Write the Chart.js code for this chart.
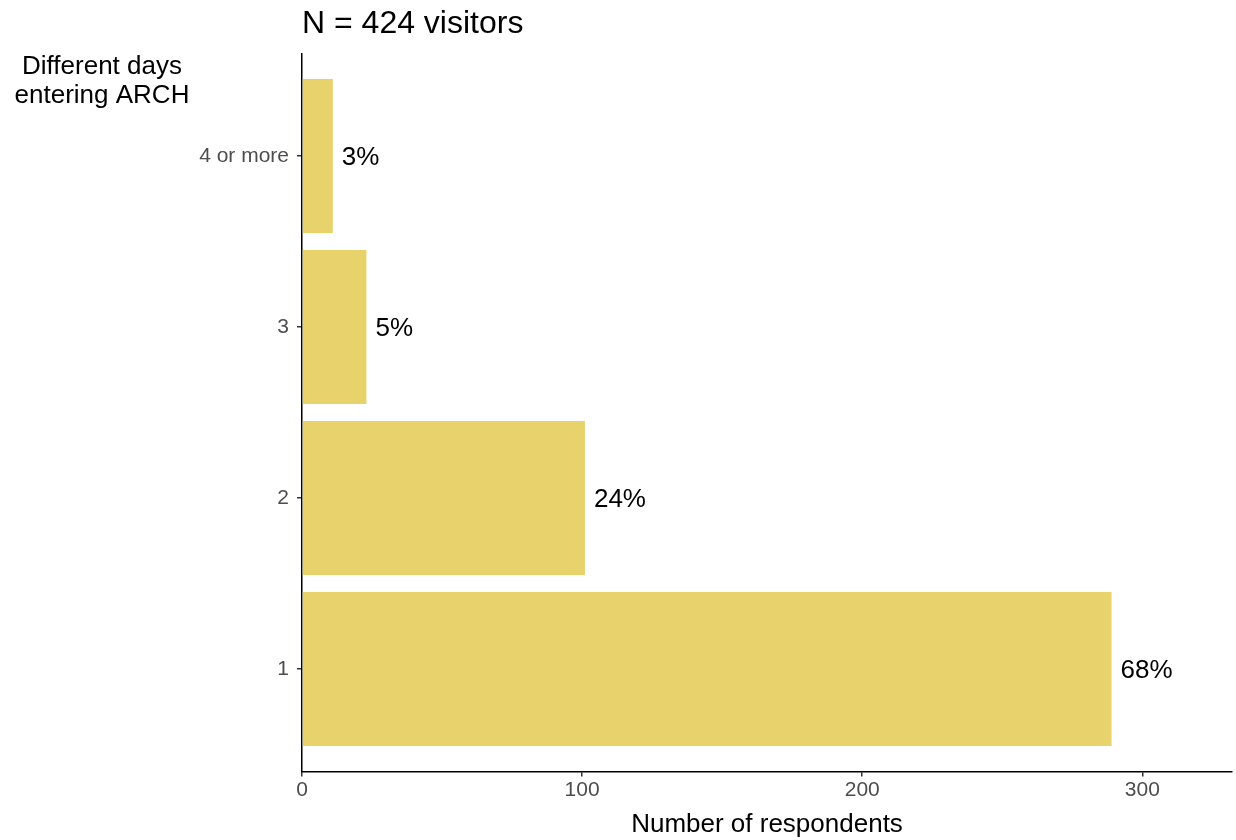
<!DOCTYPE html>
<html>
<head>
<meta charset="utf-8">
<script src="https://cdn.jsdelivr.net/npm/chart.js@4.4.1/dist/chart.umd.min.js"></script>
<style>
  html, body { margin: 0; padding: 0; background: #fff; }
</style>
</head>
<body>
<canvas id="myChart" width="1236" height="840"></canvas>
<script>
// data
var categories = ['1', '2', '3', '4 or more'];
var respondents = [289, 101, 23, 11];
var pctLabels = ['68%', '24%', '5%', '3%'];
var xTicks = [0, 100, 200, 300];
var xMax = 332;

var fontFamily = '"Liberation Sans", Arial, sans-serif';
var barColor = '#E8D26B';

// bars sit on a linear axis at 1..n so the discrete padding can match (0.6 of a step)
var points = respondents.map(function(v, i){ return { x: v, y: i + 1 }; });

// percent labels next to bars + the horizontal y axis title at top left
var extraText = {
  id: 'extraText',
  afterDatasetsDraw: function(chart) {
    var ctx = chart.ctx;
    var meta = chart.getDatasetMeta(0);
    ctx.save();
    ctx.font = '26px ' + fontFamily;
    ctx.fillStyle = '#000';
    ctx.textAlign = 'left';
    ctx.textBaseline = 'middle';
    meta.data.forEach(function(bar, i){
      ctx.fillText(pctLabels[i], bar.x + 9, bar.y + 2);
    });
    ctx.textAlign = 'center';
    ctx.textBaseline = 'alphabetic';
    ctx.fillText('Different days', 102, 74);
    ctx.fillText('entering ARCH', 102, 103);
    ctx.restore();
  }
};

var ctx = document.getElementById('myChart').getContext('2d');
var myChart = new Chart(ctx, {
  type: 'bar',
  data: {
    datasets: [{
      data: points,
      backgroundColor: barColor,
      borderWidth: 0,
      barPercentage: 0.9,
      categoryPercentage: 1
    }]
  },
  plugins: [extraText],
  options: {
    responsive: false,
    devicePixelRatio: 1,
    animation: false,
    indexAxis: 'y',
    layout: {
      padding: { left: 0, right: 4, top: 0, bottom: 0 }
    },
    plugins: {
      legend: { display: false },
      tooltip: { enabled: false },
      title: {
        display: true,
        text: 'N = 424 visitors',
        align: 'start',
        fullSize: false,
        color: '#000',
        font: { family: fontFamily, size: 32, weight: 'normal' },
        padding: { top: 5, bottom: 10 }
      }
    },
    scales: {
      x: {
        type: 'linear',
        min: 0,
        max: xMax,
        border: { display: true, color: '#000', width: 1.5 },
        grid: { display: true, drawOnChartArea: false, drawTicks: true, tickLength: 5, color: '#333', lineWidth: 1.5 },
        afterBuildTicks: function(scale) {
          scale.ticks = xTicks.map(function(v){ return { value: v }; });
        },
        ticks: {
          color: '#4D4D4D',
          padding: 1,
          font: { family: fontFamily, size: 21 }
        },
        title: {
          display: true,
          text: 'Number of respondents',
          color: '#000',
          font: { family: fontFamily, size: 26 },
          padding: { top: 5, bottom: 0 }
        }
      },
      y: {
        type: 'linear',
        min: 0.4,
        max: categories.length + 0.6,
        offset: false,
        border: { display: true, color: '#000', width: 1.5 },
        grid: { display: true, offset: false, drawOnChartArea: false, drawTicks: true, tickLength: 5, color: '#333', lineWidth: 1.5 },
        afterBuildTicks: function(scale) {
          scale.ticks = categories.map(function(c, i){ return { value: i + 1 }; });
        },
        afterFit: function(scale) {
          scale.width = 302;
        },
        ticks: {
          color: '#4D4D4D',
          padding: 8,
          font: { family: fontFamily, size: 21 },
          callback: function(value) {
            return categories[Math.round(value) - 1];
          }
        }
      }
    }
  }
});
</script>
</body>
</html>
